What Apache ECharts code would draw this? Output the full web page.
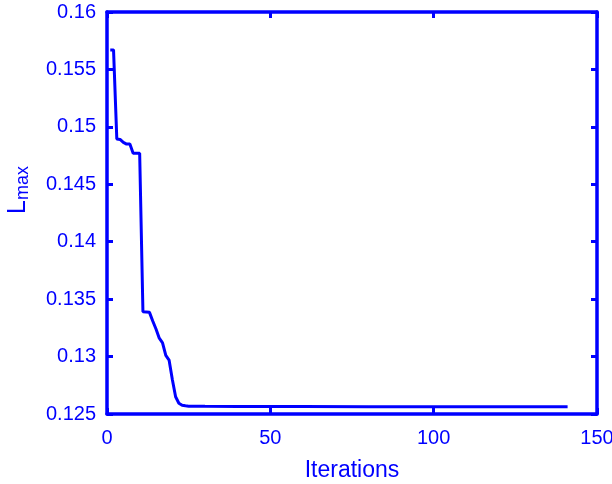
<!DOCTYPE html>
<html>
<head>
<meta charset="utf-8">
<script src="https://cdn.jsdelivr.net/npm/echarts@6/dist/echarts.min.js"></script>
<style>html,body{margin:0;padding:0;background:#fff}#c{width:612px;height:484px}</style>
</head>
<body>
<div id="c"></div>
<script>
const iterations = [1, 2, 3, 4, 5, 6, 7, 8, 9, 10, 11, 12, 13, 14, 15, 16, 17, 18, 19, 20, 21, 22, 23, 24, 25, 30, 40, 60, 80, 100, 120, 141];
const lmax = [0.1567, 0.1567, 0.14895, 0.1489, 0.14865, 0.1485, 0.1485, 0.1477, 0.1477, 0.1477, 0.1339, 0.13388, 0.13385, 0.1331, 0.1324, 0.1316, 0.1312, 0.1301, 0.1297, 0.1280, 0.1265, 0.12594, 0.12576, 0.12571, 0.12568, 0.12567, 0.12566, 0.12565, 0.12564, 0.12564, 0.12563, 0.12563];
const xTicks = [0, 50, 100, 150];
const yTicks = [0.125, 0.13, 0.135, 0.14, 0.145, 0.15, 0.155, 0.16];

const BLUE = '#0000ff';
const FONT = 'Liberation Sans, Arial, sans-serif';
const chart = echarts.init(document.getElementById('c'));
const axisBase = {
  axisLine: { show: true, onZero: false, lineStyle: { color: BLUE, width: 3.5 } },
  axisTick: { show: true, inside: true, length: 6, lineStyle: { color: BLUE, width: 3 } },
  splitLine: { show: false }
};
chart.setOption({
  animation: false,
  grid: { left: 107, right: 15, top: 12, bottom: 70, containLabel: false, outerBoundsMode: 'none' },
  xAxis: [
    Object.assign({}, axisBase, {
      type: 'value', min: xTicks[0], max: xTicks[xTicks.length - 1], interval: 50,
      name: 'Iterations', nameLocation: 'middle', nameGap: 45,
      nameTextStyle: { color: BLUE, fontFamily: FONT, fontSize: 23 },
      axisLabel: { color: BLUE, fontFamily: FONT, fontSize: 20, margin: 14 }
    }),
    Object.assign({}, axisBase, {
      type: 'value', position: 'top', min: xTicks[0], max: xTicks[xTicks.length - 1], interval: 50,
      axisLabel: { show: false }
    })
  ],
  yAxis: [
    Object.assign({}, axisBase, {
      type: 'value', min: yTicks[0], max: yTicks[yTicks.length - 1], interval: 0.005,
      axisLabel: { color: BLUE, fontFamily: FONT, fontSize: 20, margin: 11 }
    }),
    Object.assign({}, axisBase, {
      type: 'value', position: 'right', min: yTicks[0], max: yTicks[yTicks.length - 1], interval: 0.005,
      axisLabel: { show: false }
    })
  ],
  graphic: [{
    type: 'text', left: 6, top: 166, rotation: Math.PI / 2,
    style: {
      text: '{a|L}{b|max}',
      rich: {
        a: { fontSize: 25, fontFamily: FONT, fill: BLUE },
        b: { fontSize: 18, fontFamily: FONT, fill: BLUE, padding: [10, 0, 0, 0] }
      }
    }
  }],
  series: [{
    type: 'line', showSymbol: false, symbol: 'none',
    data: iterations.map((x, i) => [x, lmax[i]]),
    lineStyle: { color: BLUE, width: 3 }
  }]
});
</script>
</body>
</html>
